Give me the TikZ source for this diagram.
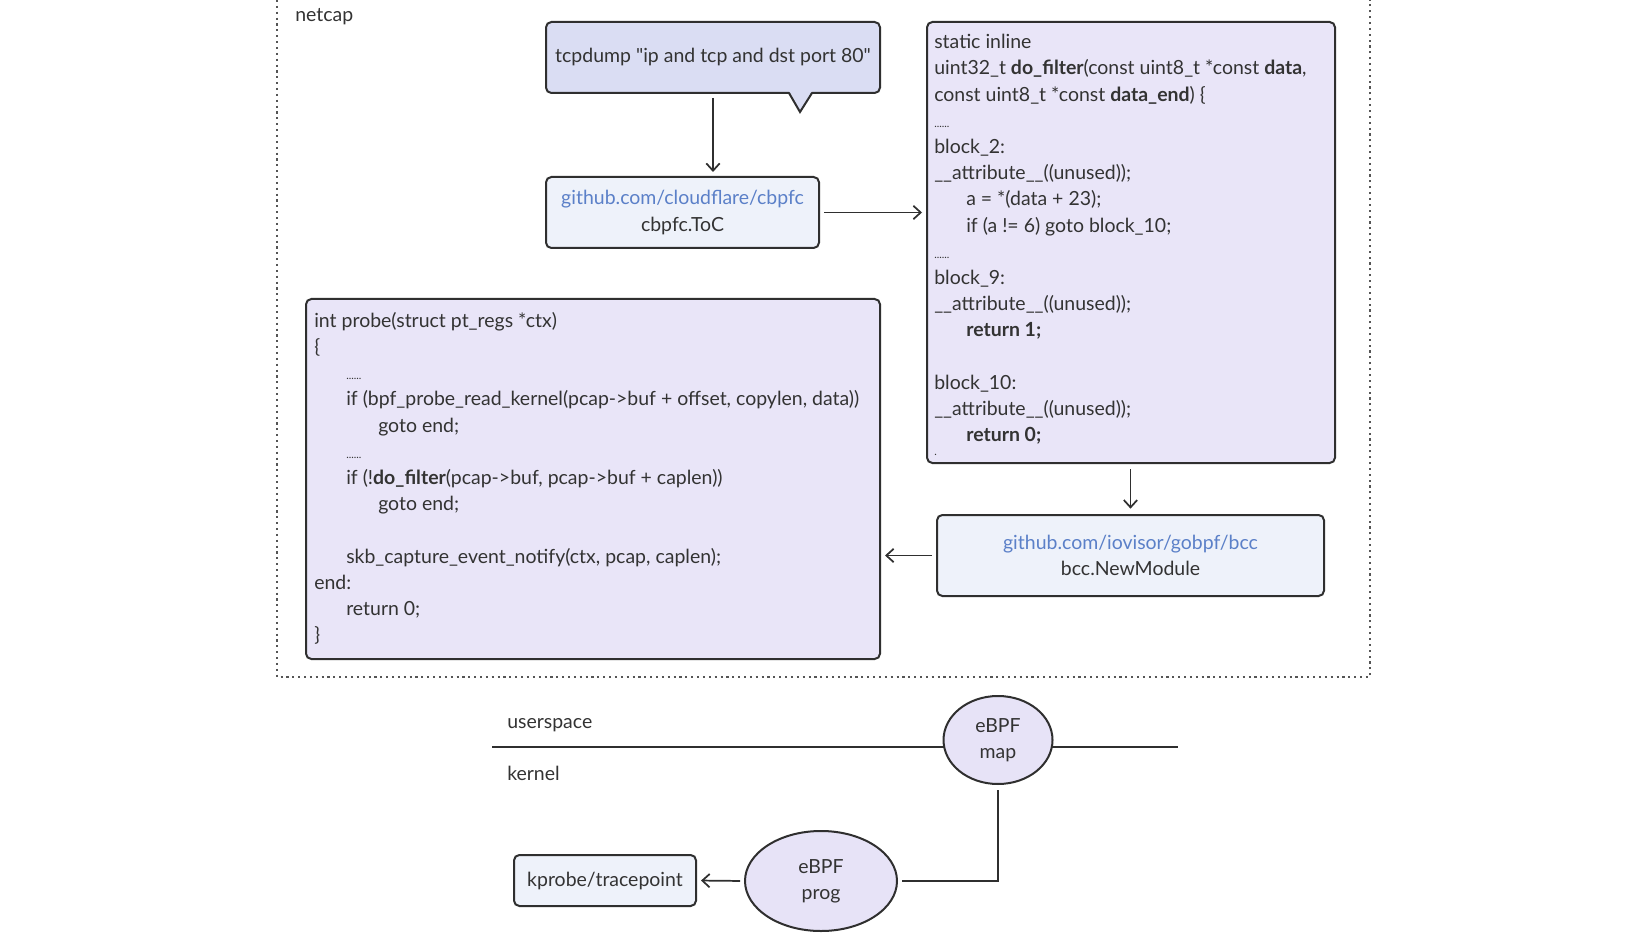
\documentclass[tikz,border=0pt]{standalone}
\usepackage{fontspec}
\setmainfont{Lato}
\usetikzlibrary{shapes.geometric,arrows.meta}
\definecolor{bordc}{HTML}{2F2F2F}
\definecolor{txt}{HTML}{333333}
\definecolor{codefill}{HTML}{E9E5F8}
\definecolor{tcpfill}{HTML}{DADDF3}
\definecolor{lightfill}{HTML}{EEF2FA}
\definecolor{ovalfill}{HTML}{E7E3F7}
\definecolor{linkc}{HTML}{5B80C8}
\definecolor{framec}{HTML}{555555}
\begin{document}
\begin{tikzpicture}[x=0.75pt,y=-0.75pt,
  txtfont/.style={font=\fontsize{14.6pt}{19.65pt}\selectfont},
  box/.style={draw=bordc, line width=1.5pt, rounded corners=4pt, inner sep=0pt, txtfont, text=txt, align=center},
  codebox/.style={box, fill=codefill},
  lightbox/.style={box, fill=lightfill},
  code/.style={anchor=north west, inner sep=0pt, align=left, text=txt, txtfont},
  oval/.style={ellipse, draw=bordc, line width=1.5pt, fill=ovalfill, inner sep=0pt, align=center, txtfont, text=txt},
  lbl/.style={anchor=west, inner sep=0pt, text=txt, txtfont},
  arr/.style={draw=bordc, line width=1.3pt, -{Straight Barb[length=5.5pt,width=10pt]}},
  conn/.style={draw=bordc, line width=1.3pt}
]
\useasboundingbox (0,0) rectangle (1640,944);

% netcap frame
\draw[framec, line width=1.6pt, dash pattern=on 1.6pt off 2.8pt] (277,0) -- (277,677) -- (1370,677) -- (1370,0);
\node[lbl] (netcap) at (295,17) {netcap};

% tcpdump callout
\node[box, fill=tcpfill, minimum width=250.5pt, minimum height=53.25pt] (tcp) at (713,57.5) {tcpdump \textquotedbl ip and tcp and dst port 80\textquotedbl};
\coordinate (tailL) at (789,93);
\coordinate (tailR) at (812,93);
\coordinate (tailT) at (800,112);
\fill[tcpfill] (789,91) -- (tailT) -- (812,91) -- cycle;
\draw[bordc, line width=1.5pt, line join=miter] (tailL) -- (tailT) -- (tailR);

% cbpfc
\node[lightbox, minimum width=204.75pt, minimum height=53.25pt] (cbpfc) at (682.5,212.5) {{\color{linkc}github.com/cloudflare/cbpfc}\\cbpfc.ToC};

% filter code box
\node[codebox, minimum width=306pt, minimum height=330.75pt] (filter) at (1131,242.5) {};
\node[code] (filtertext) at (934,34) {static inline\\
uint32\_t \textbf{do\_filter}(const uint8\_t *const \textbf{data},\\
const uint8\_t *const \textbf{data\_end}) \{\\
{\fontsize{8pt}{8pt}\selectfont ......}\\
block\_2:\\
\_\_attribute\_\_((unused));\\
\hspace*{24pt}a = *(data + 23);\\
\hspace*{24pt}if (a != 6) goto block\_10;\\
{\fontsize{8pt}{8pt}\selectfont ......}\\
block\_9:\\
\_\_attribute\_\_((unused));\\
\hspace*{24pt}\textbf{return 1;}\\
\strut\\
block\_10:\\
\_\_attribute\_\_((unused));\\
\hspace*{24pt}\textbf{return 0;}};
\node[anchor=west, inner sep=0pt, text=txt, font=\fontsize{8pt}{8pt}\selectfont] (stray) at (934,455) {.};

% bcc
\node[lightbox, minimum width=290.25pt, minimum height=60.75pt] (bcc) at (1130.5,555.5) {{\color{linkc}github.com/iovisor/gobpf/bcc}\\bcc.NewModule};

% probe code box
\node[codebox, minimum width=430.5pt, minimum height=270pt] (probe) at (593,479) {};
\node[code] (probetext) at (314,312) {int probe(struct pt\_regs *ctx)\\
\{\\
\hspace*{24pt}{\fontsize{8pt}{8pt}\selectfont ......}\\
\hspace*{24pt}if (bpf\_probe\_read\_kernel(pcap->buf + offset, copylen, data))\\
\hspace*{48pt}goto end;\\
\hspace*{24pt}{\fontsize{8pt}{8pt}\selectfont ......}\\
\hspace*{24pt}if (!\textbf{do\_filter}(pcap->buf, pcap->buf + caplen))\\
\hspace*{48pt}goto end;\\
\strut\\
\hspace*{24pt}skb\_capture\_event\_notify(ctx, pcap, caplen);\\
end:\\
\hspace*{24pt}return 0;\\
\}};

% arrows in netcap
\draw[arr, shorten <=3pt, shorten >=3pt] (tcp.south) -- (cbpfc.north -| tcp.south);
\draw[arr, shorten <=3pt, shorten >=3pt] (cbpfc.east) -- (filter.west |- cbpfc.east);
\draw[arr, shorten <=4pt, shorten >=4pt] (filter.south -| bcc.north) -- (bcc.north);
\draw[arr, shorten <=3pt, shorten >=3pt] (bcc.west) -- (probe.east |- bcc.west);

% userspace / kernel divider
\coordinate (divL) at (492,747);
\coordinate (divR) at (1178,747);
\draw[conn] (divL) -- (divR);
\node[lbl] (userspace) at (507,725) {userspace};
\node[lbl] (kernel) at (507,773) {kernel};

\node[oval, minimum width=81.75pt, minimum height=66pt] (map) at (998,740) {eBPF\\map};
\node[oval, minimum width=114pt, minimum height=75pt] (prog) at (821,881) {eBPF\\prog};
\node[lightbox, minimum width=136.5pt, minimum height=38.25pt] (kprobe) at (605,880.5) {kprobe/tracepoint};

\draw[conn, shorten <=4pt, shorten >=3pt] (map.south) |- (prog.east);
\draw[arr, shorten <=3pt, shorten >=3pt] (prog.west) -- (kprobe.east);
\end{tikzpicture}
\end{document}
